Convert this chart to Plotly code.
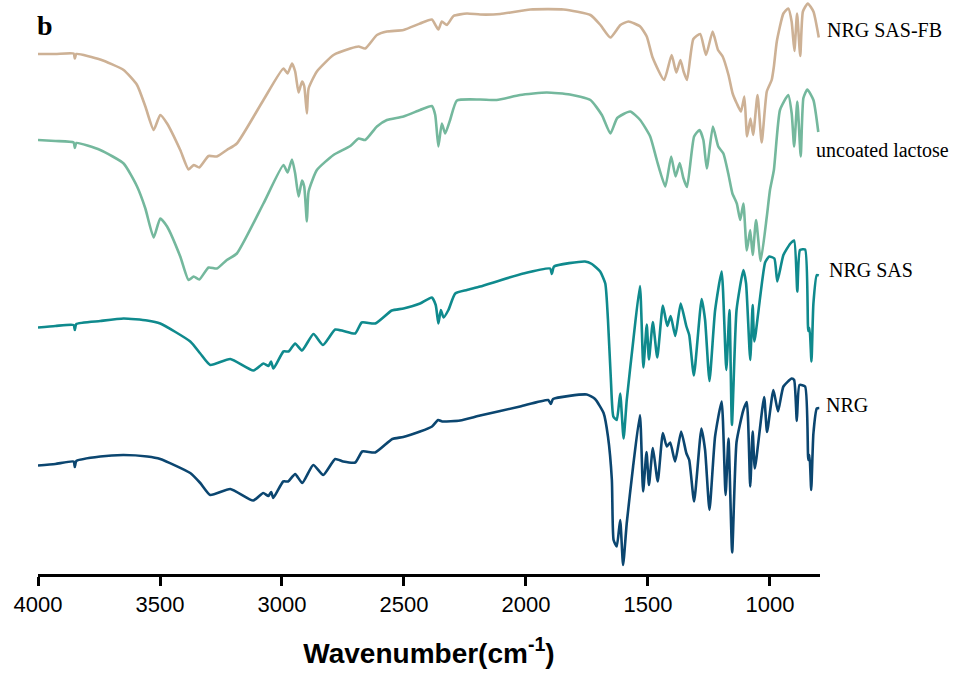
import plotly.graph_objects as go

# ---------------- data (wavenumber in cm-1, offset transmittance a.u.) ----------------
wn_nrg = [4000, 3929, 3854, 3849, 3843, 3745, 3651, 3552, 3499, 3376, 3335, 3294, 3212, 3118,
          3077, 3056, 3044, 3036, 2995, 2975, 2946, 2917, 2872, 2831, 2782, 2749, 2700, 2671,
          2618, 2548, 2503, 2434, 2385, 2360, 2343, 2270, 2188, 2024, 1909, 1898, 1889, 1751,
          1717, 1682, 1664, 1648, 1641, 1628, 1614, 1602, 1587, 1561, 1533, 1520, 1506, 1496,
          1480, 1460, 1439, 1423, 1409, 1389, 1364, 1343, 1331, 1311, 1281, 1266, 1248, 1225,
          1198, 1182, 1170, 1155, 1137, 1109, 1095, 1081, 1071, 1062, 1024, 1012, 986, 967,
          945, 911, 901, 890, 879, 856, 843, 838, 831, 822, 808, 798]
t_nrg = [21.7, 22.0, 22.5, 21.4, 22.6, 23.5, 23.8, 23.5, 23.0, 20.2, 18.2, 15.8, 17.0, 14.7,
         16.2, 15.6, 16.4, 15.2, 18.5, 18.5, 20.0, 18.2, 21.8, 19.8, 23.0, 22.5, 22.3, 24.5,
         24.3, 27.0, 27.4, 28.5, 29.5, 30.8, 30.5, 30.7, 31.7, 33.5, 34.8, 34.0, 35.0, 35.9,
         35.0, 32.2, 27.5, 18.8, 6.8, 5.5, 10.8, 1.8, 10.2, 21.5, 31.8, 16.5, 24.4, 17.8,
         25.2, 18.5, 28.2, 25.5, 26.3, 22.5, 28.5, 24.2, 22.8, 14.5, 29.1, 24.8, 12.8, 27.5,
         34.5, 15.8, 27.1, 4.3, 26.4, 32.8, 34.4, 17.5, 28.5, 21.1, 35.4, 28.4, 36.8, 32.5,
         37.5, 39.1, 38.8, 30.6, 37.8, 37.5, 22.8, 23.8, 16.8, 28.1, 33.1, 33.2]

wn_sas = [4000, 3929, 3854, 3849, 3843, 3745, 3649, 3553, 3499, 3376, 3335, 3294, 3212, 3117,
          3076, 3055, 3045, 3035, 2994, 2973, 2946, 2918, 2871, 2832, 2782, 2748, 2700, 2673,
          2618, 2550, 2502, 2434, 2386, 2370, 2359, 2349, 2338, 2318, 2290, 2242, 2188, 2011,
          1901, 1894, 1885, 1758, 1730, 1696, 1675, 1664, 1652, 1642, 1628, 1614, 1600, 1587,
          1560, 1533, 1519, 1505, 1496, 1480, 1462, 1439, 1421, 1407, 1388, 1366, 1343, 1331,
          1312, 1280, 1266, 1248, 1225, 1198, 1179, 1166, 1156, 1137, 1109, 1098, 1081, 1071,
          1064, 1020, 1003, 982, 970, 945, 918, 901, 888, 877, 856, 843, 838, 830, 822, 808, 800]
t_sas = [49.3, 49.6, 49.8, 48.8, 50.0, 50.6, 51.1, 50.7, 50.1, 46.5, 44.1, 41.8, 43.0, 40.7,
         42.1, 41.6, 42.5, 41.1, 44.5, 44.5, 46.1, 44.7, 48.0, 45.8, 48.9, 48.6, 48.1, 50.3,
         50.1, 52.7, 53.1, 54.1, 55.3, 53.8, 50.1, 52.8, 51.3, 52.8, 56.1, 56.8, 57.5, 60.1,
         61.1, 60.0, 61.5, 62.5, 62.0, 60.5, 58.1, 50.8, 38.8, 31.5, 30.8, 36.1, 27.1, 34.8,
         46.8, 57.6, 41.3, 49.9, 42.9, 50.4, 43.3, 53.7, 49.6, 51.6, 47.6, 54.1, 49.6, 47.8,
         39.7, 55.0, 50.8, 38.6, 52.7, 60.5, 40.8, 52.8, 29.8, 52.8, 60.8, 58.1, 42.8, 53.8,
         46.5, 62.3, 63.5, 63.1, 58.5, 63.8, 66.0, 66.7, 56.5, 64.8, 64.9, 48.6, 49.2, 42.5,
         54.1, 59.8, 59.7]

wn_lac = [4000, 3929, 3854, 3849, 3843, 3745, 3649, 3594, 3560, 3526, 3499, 3471, 3417, 3383,
          3362, 3339, 3301, 3267, 3226, 3185, 3076, 2994, 2977, 2959, 2946, 2932, 2918, 2909,
          2898, 2891, 2857, 2789, 2720, 2686, 2659, 2611, 2570, 2502, 2434, 2386, 2372, 2359,
          2345, 2331, 2311, 2283, 2188, 2120, 2024, 1915, 1820, 1736, 1689, 1654, 1626, 1573,
          1532, 1491, 1464, 1429, 1405, 1387, 1370, 1355, 1340, 1311, 1289, 1273, 1259, 1234,
          1212, 1191, 1171, 1154, 1136, 1122, 1109, 1095, 1081, 1071, 1057, 1038, 1013, 1000,
          984, 959, 925, 911, 901, 888, 874, 863, 847, 822, 802]
t_lac = [86.8, 86.6, 86.3, 85.2, 86.2, 84.8, 82.1, 77.5, 73.1, 67.3, 71.1, 69.5, 63.5, 58.8,
         59.5, 58.9, 61.3, 61.1, 62.8, 64.1, 74.1, 81.8, 80.3, 82.9, 80.1, 75.5, 78.7, 77.5,
         70.5, 76.5, 80.8, 83.8, 85.6, 87.1, 86.8, 89.5, 90.8, 91.5, 92.8, 93.6, 91.8, 85.5,
         90.1, 88.1, 90.8, 94.7, 94.9, 94.8, 95.8, 96.3, 95.9, 94.8, 91.8, 88.1, 91.2, 92.5,
         90.8, 87.5, 82.8, 77.5, 83.5, 79.5, 82.2, 79.2, 77.4, 87.5, 88.8, 86.8, 81.1, 89.5,
         85.5, 84.1, 80.1, 76.1, 74.1, 70.8, 74.1, 64.7, 68.8, 63.8, 70.8, 62.6, 71.5, 76.8,
         80.8, 92.8, 95.8, 92.1, 85.5, 94.5, 83.5, 95.2, 96.9, 94.8, 88.4]

wn_fb = [4000, 3929, 3854, 3849, 3843, 3745, 3649, 3594, 3560, 3526, 3499, 3471, 3417, 3383,
         3362, 3339, 3301, 3267, 3226, 3185, 3076, 2994, 2977, 2959, 2946, 2932, 2918, 2909,
         2898, 2891, 2857, 2789, 2720, 2686, 2659, 2611, 2570, 2502, 2434, 2386, 2359, 2345,
         2324, 2297, 2242, 2188, 2106, 1982, 1846, 1736, 1695, 1654, 1613, 1580, 1532, 1505,
         1481, 1434, 1403, 1384, 1367, 1354, 1340, 1314, 1286, 1262, 1235, 1213, 1194, 1170,
         1153, 1136, 1119, 1105, 1094, 1080, 1069, 1051, 1034, 1013, 993, 984, 972, 945, 925,
         911, 900, 889, 876, 865, 845, 822, 800]
t_fb = [104.0, 104.0, 104.1, 103.1, 104.0, 102.9, 100.8, 97.8, 93.5, 88.8, 91.8, 90.1, 84.8, 80.9,
        81.8, 81.3, 83.6, 83.5, 84.8, 86.1, 94.8, 101.1, 100.1, 102.1, 100.5, 96.3, 98.5, 97.6,
        92.1, 97.1, 100.5, 103.8, 105.1, 105.5, 105.1, 107.8, 108.5, 108.8, 110.1, 110.9, 108.9, 110.5,
        109.8, 111.6, 112.1, 111.9, 112.0, 112.9, 112.9, 111.8, 109.8, 107.3, 109.8, 110.5, 109.5, 107.5,
        103.3, 98.8, 103.8, 100.3, 102.8, 100.5, 98.8, 107.0, 108.0, 103.8, 108.5, 104.8, 103.5, 99.8,
        96.1, 94.1, 92.5, 95.5, 87.5, 91.1, 87.8, 95.8, 86.3, 96.5, 98.8, 101.5, 106.5, 112.1, 113.1,
        110.4, 104.6, 112.1, 103.6, 112.5, 114.1, 112.5, 107.3]

series_names = ["NRG", "NRG SAS", "uncoated lactose", "NRG SAS-FB"]
series_colors = ["#0B4670", "#0F8A8D", "#74B89D", "#CDB195"]
x_ticks = [4000, 3500, 3000, 2500, 2000, 1500, 1000]

# ---------------- figure ----------------
fig = go.Figure()
for wn, t, name, col in zip([wn_nrg, wn_sas, wn_lac, wn_fb], [t_nrg, t_sas, t_lac, t_fb],
                            series_names, series_colors):
    fig.add_trace(go.Scatter(x=wn, y=t, mode="lines", name=name,
                             line=dict(color=col, width=2.6, shape="spline", smoothing=0.5),
                             showlegend=False))

label_font = dict(family="Liberation Serif, Times New Roman, serif", size=20, color="black")
labels = [("NRG SAS-FB", 1.0064, 108.8), ("uncoated lactose", 0.992, 84.8),
          ("NRG SAS", 1.0085, 60.8), ("NRG", 1.0055, 33.8)]
for txt, xp, yv in labels:
    fig.add_annotation(text=txt, xref="paper", x=xp, yref="y", y=yv, xanchor="left",
                       yanchor="middle", showarrow=False, font=label_font)

fig.add_annotation(text="<b>b</b>", xref="paper", x=-0.004, yref="paper", y=0.955,
                   xanchor="left", yanchor="middle", showarrow=False,
                   font=dict(family="Liberation Serif, Times New Roman, serif", size=28, color="black"))

fig.update_layout(
    width=963, height=674,
    margin=dict(l=38, r=143, t=0, b=100),
    paper_bgcolor="white", plot_bgcolor="white",
    xaxis=dict(range=[4000, 795], tickvals=x_ticks, ticktext=[str(v) for v in x_ticks],
               showline=True, linecolor="black", linewidth=2.5, ticks="outside",
               ticklen=9, tickwidth=2.5, tickcolor="black", showgrid=False, zeroline=False,
               tickfont=dict(family="Liberation Sans, Arial, sans-serif", size=22, color="black"),
               title=dict(text="<b>Wavenumber(cm<sup>-1</sup>)</b>", standoff=28,
                          font=dict(family="Liberation Sans, Arial, sans-serif", size=28, color="black"))),
    yaxis=dict(range=[0, 114.8], visible=False, showgrid=False, zeroline=False),
)

fig.write_html("out.html")
